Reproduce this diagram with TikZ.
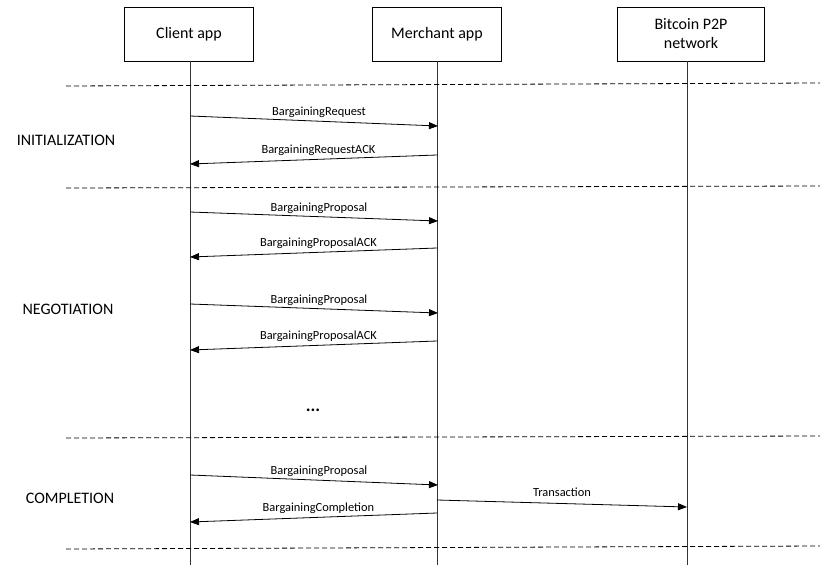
\documentclass[tikz,border=0pt]{standalone}
\usepackage{fontspec}
\setmainfont{Carlito}
\usetikzlibrary{arrows.meta}
\begin{document}
\begin{tikzpicture}[x=1pt,y=-1pt,
  actor/.style={draw,line width=0.8pt,minimum width=129pt,minimum height=54pt,align=center,font=\fontsize{16}{19}\selectfont,inner sep=0pt},
  life/.style={line width=0.8pt,black!80},
  msg/.style={line width=0.8pt,-{Triangle[length=9pt,width=7pt]}},
  lbl/.style={font=\fontsize{12.4}{14}\selectfont,inner sep=0pt},
  phase/.style={font=\fontsize{16}{18}\selectfont,inner sep=0pt},
  sep/.style={line width=0.8pt,black,dash pattern=on 5pt off 3pt}]
\useasboundingbox (0,0) rectangle (838,565);
\node[actor] (client) at (189,34) {Client app};
\node[actor] (merchant) at (437,34) {Merchant app};
\node[actor,minimum width=147pt] (btc) at (691,34) {Bitcoin P2P\\network};
\coordinate (cb) at (190,565);
\coordinate (mb) at (437,565);
\coordinate (bb) at (687,565);
\draw[life] (190,61) -- (cb);
\draw[life] (437,61) -- (mb);
\draw[life] (687,61) -- (bb);
% separators
\coordinate (s1a) at (66,86); \coordinate (s1b) at (820,83);
\coordinate (s2a) at (66,188); \coordinate (s2b) at (820,186);
\coordinate (s3a) at (66,438); \coordinate (s3b) at (820,436);
\coordinate (s4a) at (66,549); \coordinate (s4b) at (820,546);
\draw[sep] (s1a) -- (s1b);
\draw[sep] (s2a) -- (s2b);
\draw[sep] (s3a) -- (s3b);
\draw[sep] (s4a) -- (s4b);
% phases
\node[phase] (init) at (66,140) {INITIALIZATION};
\node[phase] (nego) at (68,309) {NEGOTIATION};
\node[phase] (comp) at (70,498) {COMPLETION};
% messages
\coordinate (c1) at (190,116); \coordinate (m1) at (438,126);
\draw[msg] (c1) -- node[lbl,above=3pt,pos=0.52] {BargainingRequest} (m1);
\coordinate (m2) at (437,155); \coordinate (c2) at (190,164);
\draw[msg] (m2) -- node[lbl,above=3pt,pos=0.48] {BargainingRequestACK} (c2);
\coordinate (c3) at (190,212); \coordinate (m3) at (438,221);
\draw[msg] (c3) -- node[lbl,above=3pt,pos=0.52] {BargainingProposal} (m3);
\coordinate (m4) at (437,248); \coordinate (c4) at (190,257);
\draw[msg] (m4) -- node[lbl,above=3pt,pos=0.48] {BargainingProposalACK} (c4);
\coordinate (c5) at (190,304); \coordinate (m5) at (438,313);
\draw[msg] (c5) -- node[lbl,above=3pt,pos=0.52] {BargainingProposal} (m5);
\coordinate (m6) at (437,341); \coordinate (c6) at (190,350);
\draw[msg] (m6) -- node[lbl,above=3pt,pos=0.48] {BargainingProposalACK} (c6);
\node[font=\bfseries\fontsize{18}{20}\selectfont,inner sep=0pt] (dots) at (313,410) {...};
\coordinate (c7) at (190,475); \coordinate (m7) at (438,485);
\draw[msg] (c7) -- node[lbl,above=3pt,pos=0.52] {BargainingProposal} (m7);
\coordinate (m8) at (437,500); \coordinate (b8) at (687,507);
\draw[msg] (m8) -- node[lbl,above=7pt,pos=0.5] {Transaction} (b8);
\coordinate (m9) at (437,513); \coordinate (c9) at (190,522);
\draw[msg] (m9) -- node[lbl,above=3pt,pos=0.48] {BargainingCompletion} (c9);
\end{tikzpicture}
\end{document}
